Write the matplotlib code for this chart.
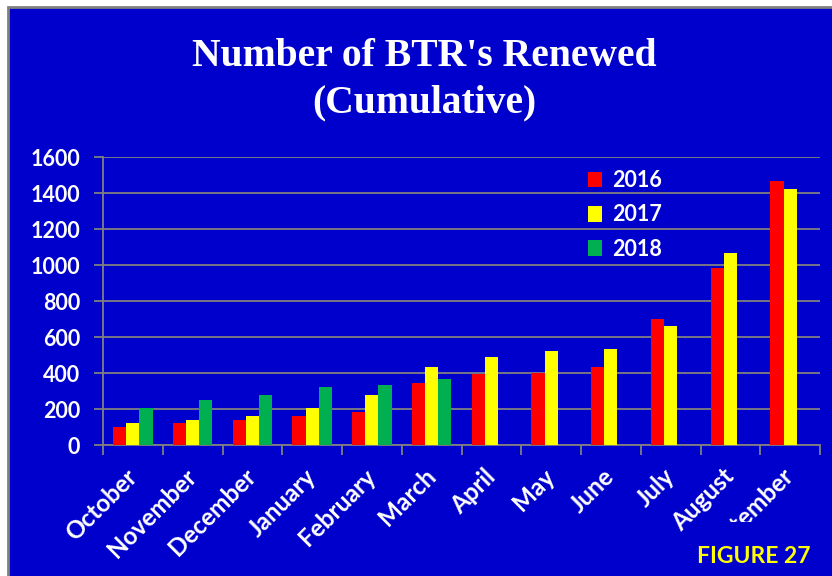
import numpy as np
import matplotlib
matplotlib.use("Agg")
import matplotlib.pyplot as plt
from matplotlib.patches import Rectangle, Patch

months = ["October", "November", "December", "January", "February", "March",
          "April", "May", "June", "July", "August", "September"]
renewed_2016 = [100, 120, 140, 160, 185, 345, 393, 402, 433, 702, 983, 1465]
renewed_2017 = [120, 140, 160, 205, 280, 432, 487, 520, 532, 659, 1067, 1422]
renewed_2018 = [205, 250, 280, 325, 335, 368, np.nan, np.nan, np.nan, np.nan, np.nan, np.nan]
years = ["2016", "2017", "2018"]
colors = ["#FF0000", "#FFFF00", "#00B050"]

BLUE = "#0000CC"
GREY = "#808080"
W, H = 832, 576

fig = plt.figure(figsize=(W / 100, H / 100), dpi=100, facecolor="white")

# blue panel with a grey frame, white strip on top and left
fig.add_artist(Rectangle((8 / W, -0.05), 1.2, 1 - 7 / H + 0.05, transform=fig.transFigure,
                         facecolor=BLUE, edgecolor=GREY, linewidth=2, zorder=-10))

ax = fig.add_axes([103 / W, 1 - 445 / H, (820 - 103) / W, 288 / H])
ax.set_facecolor("none")

x = np.arange(len(months))
width = 0.22
for i, (vals, c, lab) in enumerate(zip([renewed_2016, renewed_2017, renewed_2018], colors, years)):
    ax.bar(x + (i - 1) * width, vals, width, color=c, label=lab, zorder=3)

ax.set_xlim(-0.5, len(months) - 0.5)
ax.set_ylim(0, 1600)
ax.set_yticks(range(0, 1601, 200))
ax.grid(axis="y", color=GREY, linewidth=1.3, zorder=1)

for side in ["top", "right"]:
    ax.spines[side].set_visible(False)
for side in ["left", "bottom"]:
    ax.spines[side].set_color(GREY)
    ax.spines[side].set_linewidth(1.3)

tick_font = dict(family=["Lato", "DejaVu Sans"], weight="bold", size=17.5)

ax.set_xticks(x)
ax.set_xticks(np.arange(-0.5, len(months)), minor=True)
ax.set_xticklabels(months, rotation=45, ha="right", va="center",
                   rotation_mode="anchor", color="white", fontdict=tick_font)
ax.tick_params(axis="x", which="major", length=0, pad=20)
ax.tick_params(axis="x", which="minor", length=7.5, width=1.3, color=GREY)
ax.tick_params(axis="y", length=6.5, width=1.3, color=GREY, pad=10)
for t in ax.get_yticklabels():
    t.set_color("white")
    t.set_fontfamily(["Lato", "DejaVu Sans"])
    t.set_fontweight("bold")
    t.set_fontsize(15.5)

handles = [Patch(facecolor=c, edgecolor="none") for c in colors]
leg = ax.legend(handles, years, loc="upper left", bbox_to_anchor=(588 / W, 1 - 170 / H),
                bbox_transform=fig.transFigure, frameon=False, borderpad=0, borderaxespad=0,
                handlelength=0.65, handleheight=0.75, handletextpad=0.45, labelspacing=0.62,
                prop=dict(family=["Lato", "DejaVu Sans"], weight="bold", size=15.5))
for t in leg.get_texts():
    t.set_color("white")

title_font = dict(family=["Liberation Serif", "DejaVu Serif"], weight="bold", size=28.5, color="white")
fig.text(424 / W, 1 - 66 / H, "Number of BTR's Renewed", ha="center", va="baseline", **title_font)
fig.text(424 / W, 1 - 112 / H, "(Cumulative)", ha="center", va="baseline", **title_font)

# box holding the figure number (it sits over the last month label)
fig.add_artist(Rectangle((700 / W, 0), 132 / W, 54 / H, transform=fig.transFigure,
                         facecolor=BLUE, edgecolor="none", zorder=5))
fig.text(697 / W, 1 - 563 / H, "FIGURE 27", ha="left", va="baseline", color="#FFFF00",
         family=["Lato", "DejaVu Sans"], weight="bold", size=16.5, zorder=6)

fig.savefig("out.png", dpi=100, facecolor=fig.get_facecolor())
